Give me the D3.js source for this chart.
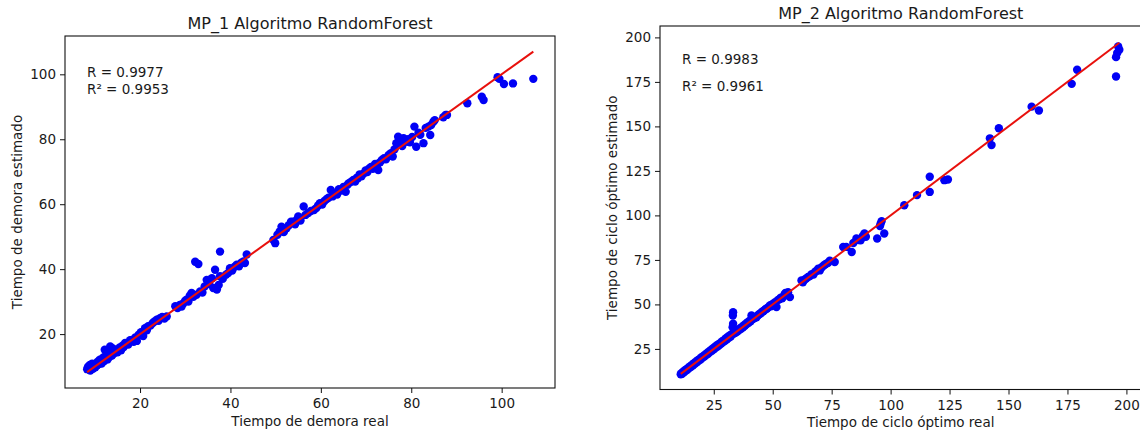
<!DOCTYPE html>
<html>
<head>
<meta charset="utf-8">
<script src="https://cdn.jsdelivr.net/npm/d3@7"></script>
<style>
  body { margin: 0; background: #fff; }
  svg { display: block; }
  text { font-family: "DejaVu Sans", sans-serif; fill: #1a1a1a; }
</style>
</head>
<body>
<svg id="chart" width="1140" height="434"></svg>
<script>
// MP_1: tiempo de demora real vs estimado
const mp1Real = [
  8.3, 8.5, 8.6, 8.8, 8.9, 9.0, 9.2, 9.4, 9.6, 9.7, 9.9, 10.1, 10.3, 10.5, 10.7, 10.9,
  11.1, 11.3, 11.5, 11.7, 11.9, 12.1, 12.2, 12.4, 12.6, 12.8, 13.0, 13.2, 13.4, 13.6,
  13.8, 14.0, 14.2, 14.5, 14.7, 15.0, 15.2, 15.5, 15.8, 16.1, 16.4, 16.7, 17.1, 17.4,
  17.8, 18.2, 18.6, 19.0, 19.3, 19.7, 20.2, 20.7, 21.1, 21.5, 21.8, 22.3, 22.8, 23.2,
  23.7, 24.1, 24.4, 24.9, 25.4, 25.9, 27.8, 28.3, 28.8, 29.2, 29.6, 30.0, 30.3, 30.7,
  31.0, 31.4, 31.8, 32.2, 32.5, 32.9, 33.3, 33.8, 34.3, 34.75, 35.3, 35.9, 36.2, 36.6,
  37.0, 37.4, 37.7, 37.7, 38.3, 39.0, 39.5, 39.9, 40.4, 41.0, 41.4, 41.9, 42.4, 42.9,
  43.2, 43.6, 49.5, 49.9, 50.4, 50.9, 51.3, 51.8, 52.4, 52.9, 53.4, 53.9, 54.3, 54.7,
  55.0, 55.5, 56.2, 56.6, 57.2, 57.8, 58.5, 59.0, 59.4, 59.8, 60.3, 60.8, 61.3, 61.7,
  62.2, 62.6, 63.1, 63.6, 64.0, 64.5, 65.0, 65.5, 65.9, 66.2, 66.7, 67.2, 67.6, 68.0,
  68.2, 68.6, 69.0, 69.5, 69.9, 70.3, 70.7, 71.1, 71.5, 72.0, 72.4, 72.7, 73.1, 73.5,
  74.0, 74.4, 75.0, 75.5, 75.9, 76.3, 76.7, 77.1, 77.6, 78.0, 78.3, 78.8, 79.3, 79.7,
  80.2, 80.7, 81.1, 81.6, 82.0, 82.7, 83.2, 83.8, 84.2, 84.4, 84.9, 85.2, 87.1, 87.6,
  87.9, 92.4, 95.6, 96.0, 99.1, 99.5, 100.5, 102.5, 107.0
];
const mp1Est = [
  9.2, 9.8, 10.0, 9.0, 10.5, 8.8, 9.6, 10.9, 9.3, 10.6, 10.2, 9.8, 11.0, 10.4, 11.6, 10.8,
  12.1, 11.2, 10.9, 12.4, 12.8, 11.7, 15.2, 13.1, 13.6, 12.2, 14.0, 12.9, 16.2, 14.7,
  13.4, 15.6, 14.0, 14.6, 15.1, 14.4, 15.2, 15.9, 15.0, 16.4, 16.0, 17.3, 17.2, 16.8,
  18.1, 18.2, 17.6, 19.0, 17.9, 19.8, 20.6, 19.4, 21.8, 21.2, 22.4, 22.6, 23.4, 23.9,
  24.4, 24.1, 24.9, 25.3, 24.8, 25.4, 28.6, 28.0, 29.0, 28.5, 29.5, 30.3, 30.6, 30.0,
  31.8, 32.7, 31.5, 42.3, 32.1, 41.6, 33.1, 32.8, 34.7, 36.7, 35.4, 37.2, 34.2, 39.8,
  33.7, 35.1, 45.4, 37.8, 37.0, 38.3, 38.8, 40.3, 39.6, 40.8, 41.4, 40.9, 42.0, 42.4,
  41.9, 44.5, 49.0, 48.0, 50.6, 51.6, 53.1, 51.4, 52.6, 53.5, 54.6, 54.6, 53.8, 55.2,
  56.2, 55.0, 59.3, 56.7, 57.3, 57.9, 58.2, 58.8, 59.6, 60.3, 59.9, 61.0, 61.6, 62.0,
  64.4, 62.4, 63.3, 63.0, 64.6, 64.2, 65.3, 63.8, 66.0, 66.5, 66.9, 67.5, 67.0, 68.2,
  68.0, 69.2, 68.6, 69.5, 70.4, 69.9, 71.0, 71.5, 70.9, 72.4, 71.8, 70.5, 72.9, 73.6,
  74.2, 73.8, 75.2, 75.7, 74.7, 76.9, 78.8, 80.8, 79.5, 77.9, 80.3, 79.2, 80.0, 79.1,
  80.7, 83.9, 77.7, 82.0, 81.4, 78.8, 83.5, 83.9, 81.3, 84.4, 85.4, 85.9, 86.8, 87.5,
  87.5, 91.1, 93.1, 92.1, 99.1, 98.6, 97.0, 97.2, 98.6
];

// MP_2: tiempo de ciclo óptimo real vs estimado
const mp2Real = [
  11.0, 11.3, 11.6, 12.0, 12.3, 12.7, 13.0, 13.4, 13.8, 14.2, 14.6, 15.0, 15.4, 15.8,
  16.2, 16.6, 17.0, 17.4, 17.8, 18.2, 18.6, 19.0, 19.4, 19.8, 20.2, 20.6, 21.0, 21.4,
  21.8, 22.2, 22.6, 23.0, 23.4, 23.8, 24.2, 24.6, 25.0, 25.4, 25.8, 26.2, 26.6, 27.0,
  27.4, 27.8, 28.2, 28.6, 29.0, 29.4, 29.8, 30.2, 30.6, 31.0, 31.4, 31.8, 32.2, 32.6,
  33.0, 33.2, 33.1, 33.2, 33.4, 33.8, 34.2, 34.6, 35.0, 35.4, 35.8, 36.2, 36.6, 37.0,
  37.4, 37.8, 38.2, 38.6, 39.0, 39.4, 39.8, 40.2, 40.6, 41.0, 41.4, 41.8, 42.2, 42.6,
  43.1, 43.5, 44.0, 44.5, 45.0, 45.5, 46.0, 46.5, 47.0, 47.5, 48.0, 48.8, 49.3, 49.8,
  50.4, 51.0, 51.6, 52.2, 52.8, 53.4, 54.0, 54.4, 55.0, 55.4, 55.9, 56.5, 57.3, 62.2,
  62.8, 63.5, 64.2, 65.0, 65.8, 66.5, 67.3, 68.0, 68.7, 69.3, 70.0, 70.8, 71.5, 72.2,
  72.8, 73.5, 74.2, 76.3, 79.9, 81.2, 83.5, 84.2, 85.5, 86.5, 87.3, 88.2, 88.9, 89.5,
  94.3, 95.5, 95.8, 96.2, 97.3, 105.8, 111.2, 116.6, 116.6, 122.8, 124.3, 142.1, 142.8,
  145.9, 159.8, 162.9, 176.8, 179.1, 195.6, 195.6, 196.1, 196.5, 197.0
];
const mp2Est = [
  10.8, 11.4, 11.0, 12.2, 11.9, 12.9, 12.6, 13.6, 13.3, 14.5, 14.2, 15.3, 15.0, 16.1,
  15.8, 17.0, 16.7, 17.8, 17.5, 18.7, 18.3, 19.4, 19.1, 20.3, 20.0, 21.1, 20.7, 21.9,
  21.5, 22.7, 22.3, 23.6, 23.2, 24.4, 24.0, 25.3, 24.8, 26.1, 25.6, 26.9, 26.4, 27.6,
  27.2, 28.4, 28.0, 29.3, 28.8, 30.0, 29.6, 31.0, 30.4, 31.8, 31.2, 32.6, 32.0, 33.3,
  37.2, 39.1, 43.8, 45.6, 33.5, 34.3, 34.0, 35.0, 34.8, 35.8, 35.6, 36.6, 36.3, 37.4,
  37.2, 38.3, 38.0, 39.1, 39.0, 40.0, 39.7, 40.9, 40.5, 43.8, 41.6, 42.0, 42.3, 42.6,
  42.8, 43.6, 44.2, 44.8, 45.0, 45.9, 46.1, 46.7, 47.4, 47.6, 48.3, 49.4, 48.9, 50.1,
  50.2, 51.3, 48.5, 52.4, 52.9, 53.8, 53.5, 54.1, 55.6, 56.4, 56.0, 56.8, 54.1, 63.5,
  62.4, 63.9, 64.6, 65.4, 65.9, 67.0, 66.8, 68.4, 68.9, 70.0, 69.1, 70.9, 71.7, 72.4,
  72.9, 73.4, 74.6, 73.8, 82.3, 82.3, 79.4, 84.5, 87.0, 86.1, 86.0, 88.4, 89.8, 88.0,
  87.0, 94.0, 95.4, 96.8, 89.8, 105.7, 111.4, 121.7, 113.2, 119.8, 120.2, 143.3, 139.5,
  149.0, 161.1, 158.9, 173.9, 181.8, 178.0, 188.9, 191.2, 194.9, 193.1
];

const mp1Ticks = [20, 40, 60, 80, 100];
const mp2Ticks = [25, 50, 75, 100, 125, 150, 175, 200];
const mp1Stats = ["R = 0.9977", "R² = 0.9953"];
const mp2Stats = ["R = 0.9983", "R² = 0.9961"];

const panels = [
  {
    title: "MP_1 Algoritmo RandomForest",
    xLabel: "Tiempo de demora real",
    yLabel: "Tiempo de demora estimado",
    real: mp1Real, est: mp1Est, ticks: mp1Ticks, stats: mp1Stats,
    domain: [3.4, 111.8],
    box: { left: 65, right: 555, top: 36, bottom: 388 },
    statsY: [41.3, 58.3], yLabelX: 22
  },
  {
    title: "MP_2 Algoritmo RandomForest",
    xLabel: "Tiempo de ciclo óptimo real",
    yLabel: "Tiempo de ciclo óptimo estimado",
    real: mp2Real, est: mp2Est, ticks: mp2Ticks, stats: mp2Stats,
    domain: [2.2, 206.4],
    box: { left: 660, right: 1141.5, top: 26, bottom: 389.5 },
    statsY: [38.3, 64.7], yLabelX: 617
  }
];

const svg = d3.select("#chart");
const FONT = 13.5;

panels.forEach(p => {
  const b = p.box;
  const x = d3.scaleLinear().domain(p.domain).range([b.left, b.right]);
  const y = d3.scaleLinear().domain(p.domain).range([b.bottom, b.top]);
  const g = svg.append("g");

  // scatter of real vs estimated
  const pts = p.real.map((v, i) => [v, p.est[i]]);
  g.append("g").selectAll("circle").data(pts).join("circle")
    .attr("cx", d => x(d[0]))
    .attr("cy", d => y(d[1]))
    .attr("r", 4.2)
    .attr("fill", "#0000f5");

  // identity line over the range of real values
  const ext = d3.extent(p.real);
  g.append("line")
    .attr("x1", x(ext[0])).attr("y1", y(ext[0]))
    .attr("x2", x(ext[1])).attr("y2", y(ext[1]))
    .attr("stroke", "#e8100c").attr("stroke-width", 2);

  // frame
  g.append("rect")
    .attr("x", b.left).attr("y", b.top)
    .attr("width", b.right - b.left).attr("height", b.bottom - b.top)
    .attr("fill", "none").attr("stroke", "#111").attr("stroke-width", 1.1);

  const xAxis = g.append("g")
    .attr("transform", `translate(0,${b.bottom})`)
    .call(d3.axisBottom(x).tickValues(p.ticks).tickSize(5).tickSizeOuter(0).tickPadding(5.5));
  const yAxis = g.append("g")
    .attr("transform", `translate(${b.left},0)`)
    .call(d3.axisLeft(y).tickValues(p.ticks).tickSize(5).tickSizeOuter(0).tickPadding(4));
  [xAxis, yAxis].forEach(a => {
    a.select(".domain").remove();
    a.selectAll(".tick line").attr("stroke", "#111").attr("stroke-width", 1);
    a.selectAll(".tick text").attr("font-size", FONT).attr("fill", "#1a1a1a")
      .style("font-family", '"DejaVu Sans", sans-serif');
  });

  const cx = (b.left + b.right) / 2;
  g.append("text")
    .attr("x", cx).attr("y", b.top - 7.5)
    .attr("text-anchor", "middle").attr("font-size", 16)
    .text(p.title);

  g.append("text")
    .attr("x", cx).attr("y", b.bottom + 37.5)
    .attr("text-anchor", "middle").attr("font-size", FONT)
    .text(p.xLabel);

  g.append("text")
    .attr("transform", `translate(${p.yLabelX},${(b.top + b.bottom) / 2}) rotate(-90)`)
    .attr("text-anchor", "middle").attr("font-size", FONT)
    .text(p.yLabel);

  p.stats.forEach((s, i) => {
    g.append("text")
      .attr("x", b.left + 22).attr("y", b.top + p.statsY[i])
      .attr("font-size", FONT)
      .text(s);
  });
});
</script>
</body>
</html>
